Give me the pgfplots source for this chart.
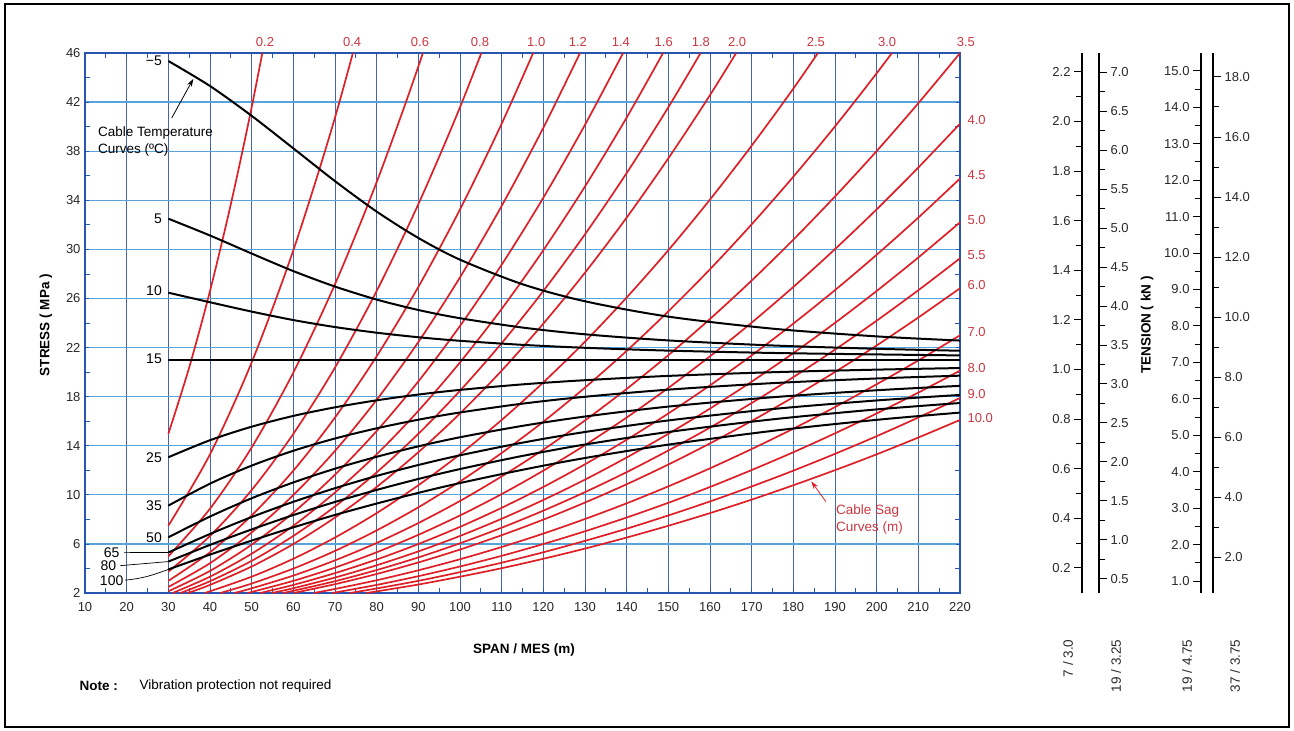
\documentclass[border=0pt]{standalone}
\usepackage{fontspec}
\setmainfont{Liberation Sans}
\usepackage{pgfplots}
\usepackage{pgfplotstable}
\pgfplotsset{compat=1.18}
\usetikzlibrary{arrows.meta}
\definecolor{vgrid}{RGB}{70,100,170}
\definecolor{hgrid}{RGB}{85,165,220}
\definecolor{axblue}{RGB}{40,85,175}
\definecolor{sagred}{RGB}{222,32,38}
\definecolor{labred}{RGB}{205,55,65}
\definecolor{txt}{RGB}{40,40,40}

% temperature curves: span L (m) vs stress (MPa) for each cable temperature
\pgfplotstableread{
L m5 t5 t10 t15 t25 t35 t50 t65 t80 t100
30 45.35 32.50 26.47 21.00 13.06 9.12 6.54 5.30 4.56 3.92
40 43.31 31.13 25.69 21.00 14.45 10.91 8.23 6.81 5.92 5.13
50 40.88 29.66 24.93 21.00 15.55 12.38 9.72 8.19 7.18 6.27
60 38.23 28.23 24.24 21.00 16.43 13.59 11.01 9.43 8.35 7.35
70 35.56 26.97 23.67 21.00 17.13 14.59 12.13 10.54 9.42 8.36
80 33.08 25.91 23.21 21.00 17.70 15.42 13.10 11.54 10.40 9.29
90 30.93 25.06 22.84 21.00 18.17 16.12 13.95 12.43 11.29 10.16
100 29.16 24.39 22.55 21.00 18.55 16.71 14.69 13.22 12.10 10.96
115 27.16 23.63 22.22 21.00 19.00 17.43 15.62 14.25 13.17 12.04
130 25.77 23.08 21.98 21.00 19.34 17.99 16.38 15.12 14.10 13.00
150 24.52 22.58 21.75 21.00 19.69 18.57 17.19 16.06 15.12 14.09
175 23.54 22.17 21.56 21.00 19.99 19.10 17.95 16.99 16.15 15.21
200 22.91 21.90 21.44 21.00 20.20 19.48 18.52 17.69 16.96 16.11
220 22.57 21.74 21.36 21.00 20.33 19.71 18.88 18.14 17.48 16.70
}\temps

\pgfplotsset{
  sag/.style={sagred, line width=1.7pt, smooth},
  temp/.style={black, line width=2pt, smooth},
  scaleaxis/.style={
    scale only axis, width=1pt, height=540pt, anchor=south west,
    xmin=0, xmax=1, axis x line=none,
    y axis line style={-, black, line width=1.6pt},
    tick align=outside, major tick length=8pt, minor tick length=6pt,
    minor y tick num=1,
    every tick/.style={black, line width=1pt},
    /pgf/number format/assume math mode=true,
    yticklabel style={font=\fontsize{13}{15}\selectfont, text=txt,
      /pgf/number format/.cd, fixed, fixed zerofill, precision=1},
  },
}

\begin{document}
\begin{tikzpicture}[x=1pt,y=1pt]
\useasboundingbox (0,0) rectangle (1294,-731);
\draw[line width=1.8pt] (5,-4) rectangle (1289,-727);

\begin{axis}[
  at={(85pt,-593pt)}, anchor=south west,
  scale only axis, width=875pt, height=540pt,
  xmin=10, xmax=220, ymin=2, ymax=46,
  xtick={10,20,...,220}, ytick={2,6,...,46},
  minor x tick num=1, minor y tick num=1,
  tick align=inside, major tick length=4pt, minor tick length=5pt,
  every tick/.style={axblue, line width=0.8pt},
  xmajorgrids, ymajorgrids,
  x grid style={vgrid, line width=1pt},
  y grid style={hgrid, line width=1.3pt},
  axis line style={axblue, line width=1.6pt},
  tick label style={font=\fontsize{13}{15}\selectfont, text=txt},
  /pgf/number format/assume math mode=true,
  xticklabel style={yshift=-6pt},
  yticklabel style={xshift=-1pt},
  clip mode=individual, no markers,
]
% ---- cable sag curves (m)
\addplot[sag] coordinates {(30,14.97)(35,20.37)(40,26.61)(45,33.68)(50,41.58)(55,50.31)};
\addplot[sag] coordinates {(30,7.48)(40,13.30)(50,20.79)(60,29.93)(70,40.74)(80,53.22)};
\addplot[sag] coordinates {(30,4.99)(40,8.87)(50,13.86)(60,19.96)(70,27.16)(80,35.48)(90,44.90)(100,55.43)};
\addplot[sag] coordinates {(30,3.74)(40,6.65)(50,10.39)(60,14.97)(70,20.37)(80,26.61)(90,33.68)(100,41.58)(110,50.31)};
\addplot[sag] coordinates {(30,2.99)(40,5.32)(50,8.32)(60,11.97)(70,16.30)(80,21.29)(90,26.94)(100,33.26)(110,40.24)(120,47.89)};
\addplot[sag] coordinates {(30,2.49)(40,4.43)(50,6.93)(60,9.98)(70,13.58)(80,17.74)(90,22.45)(100,27.72)(110,33.54)(120,39.91)(130,46.84)};
\addplot[sag] coordinates {(30,2.14)(40,3.80)(50,5.94)(60,8.55)(70,11.64)(80,15.20)(90,19.24)(100,23.76)(110,28.75)(120,34.21)(130,40.15)(140,46.56)};
\addplot[sag] coordinates {(31.02,2)(40,3.33)(50,5.20)(60,7.48)(70,10.19)(80,13.30)(90,16.84)(100,20.79)(110,25.15)(120,29.93)(130,35.13)(140,40.74)(150,46.77)};
\addplot[sag] coordinates {(32.90,2)(40,2.96)(50,4.62)(60,6.65)(70,9.05)(80,11.83)(90,14.97)(100,18.48)(110,22.36)(120,26.61)(130,31.23)(140,36.22)(150,41.58)(160,47.30)};
\addplot[sag] coordinates {(34.68,2)(40,2.66)(50,4.16)(60,5.99)(70,8.15)(80,10.64)(90,13.47)(100,16.63)(110,20.12)(120,23.95)(130,28.10)(140,32.59)(150,37.42)(160,42.57)(170,48.06)};
\addplot[sag] coordinates {(38.77,2)(50,3.33)(60,4.79)(70,6.52)(80,8.51)(90,10.78)(100,13.30)(110,16.10)(120,19.16)(130,22.48)(140,26.08)(150,29.93)(160,34.06)(170,38.45)(180,43.10)(190,48.03)};
\addplot[sag] coordinates {(42.47,2)(50,2.77)(60,3.99)(70,5.43)(80,7.10)(90,8.98)(100,11.09)(110,13.41)(120,15.96)(130,18.74)(140,21.73)(150,24.95)(160,28.38)(170,32.04)(180,35.92)(190,40.02)(200,44.35)(210,48.89)};
\addplot[sag] coordinates {(45.88,2)(50,2.38)(60,3.42)(70,4.66)(80,6.08)(90,7.70)(100,9.50)(110,11.50)(120,13.68)(130,16.06)(140,18.63)(150,21.38)(160,24.33)(170,27.46)(180,30.79)(190,34.31)(200,38.01)(210,41.91)(220,45.99)};
\addplot[sag] coordinates {(49.04,2)(60,2.99)(70,4.07)(80,5.32)(90,6.74)(100,8.32)(110,10.06)(120,11.97)(130,14.05)(140,16.30)(150,18.71)(160,21.29)(170,24.03)(180,26.94)(190,30.02)(200,33.26)(210,36.67)(220,40.24)};
\addplot[sag] coordinates {(52.02,2)(60,2.66)(70,3.62)(80,4.73)(90,5.99)(100,7.39)(110,8.94)(120,10.64)(130,12.49)(140,14.49)(150,16.63)(160,18.92)(170,21.36)(180,23.95)(190,26.68)(200,29.56)(210,32.59)(220,35.77)};
\addplot[sag] coordinates {(54.83,2)(60,2.39)(70,3.26)(80,4.26)(90,5.39)(100,6.65)(110,8.05)(120,9.58)(130,11.24)(140,13.04)(150,14.97)(160,17.03)(170,19.22)(180,21.55)(190,24.01)(200,26.61)(210,29.34)(220,32.20)};
\addplot[sag] coordinates {(57.51,2)(60,2.18)(70,2.96)(80,3.87)(90,4.90)(100,6.05)(110,7.32)(120,8.71)(130,10.22)(140,11.85)(150,13.61)(160,15.48)(170,17.48)(180,19.59)(190,21.83)(200,24.19)(210,26.67)(220,29.27)};
\addplot[sag] coordinates {(60.07,2)(70,2.72)(80,3.55)(90,4.49)(100,5.54)(110,6.71)(120,7.98)(130,9.37)(140,10.86)(150,12.47)(160,14.19)(170,16.02)(180,17.96)(190,20.01)(200,22.17)(210,24.45)(220,26.83)};
\addplot[sag] coordinates {(64.88,2)(70,2.33)(80,3.04)(90,3.85)(100,4.75)(110,5.75)(120,6.84)(130,8.03)(140,9.31)(150,10.69)(160,12.16)(170,13.73)(180,15.39)(190,17.15)(200,19.01)(210,20.95)(220,23.00)};
\addplot[sag] coordinates {(69.36,2)(80,2.66)(90,3.37)(100,4.16)(110,5.03)(120,5.99)(130,7.03)(140,8.15)(150,9.35)(160,10.64)(170,12.02)(180,13.47)(190,15.01)(200,16.63)(210,18.33)(220,20.12)};
\addplot[sag] coordinates {(73.57,2)(80,2.37)(90,2.99)(100,3.70)(110,4.47)(120,5.32)(130,6.25)(140,7.24)(150,8.32)(160,9.46)(170,10.68)(180,11.97)(190,13.34)(200,14.78)(210,16.30)(220,17.89)};
\addplot[sag] coordinates {(77.55,2)(80,2.13)(90,2.69)(100,3.33)(110,4.02)(120,4.79)(130,5.62)(140,6.52)(150,7.48)(160,8.51)(170,9.61)(180,10.78)(190,12.01)(200,13.30)(210,14.67)(220,16.10)};
% ---- cable temperature curves
\addplot[temp] table[x=L,y=m5]{\temps};
\addplot[temp] table[x=L,y=t5]{\temps};
\addplot[temp] table[x=L,y=t10]{\temps};
\addplot[temp] table[x=L,y=t15]{\temps};
\addplot[temp] table[x=L,y=t25]{\temps};
\addplot[temp] table[x=L,y=t35]{\temps};
\addplot[temp] table[x=L,y=t50]{\temps};
\addplot[temp] table[x=L,y=t65]{\temps};
\addplot[temp] table[x=L,y=t80]{\temps};
\addplot[temp] table[x=L,y=t100]{\temps};

% temperature labels
\begin{scope}[every node/.style={font=\fontsize{14}{16}\selectfont, text=black}]
\node[anchor=east, xshift=-3pt] at (30,45.35) {−5};
\node[anchor=east, xshift=-3pt] at (30,32.50) {5};
\node[anchor=east, xshift=-3pt] at (30,26.60) {10};
\node[anchor=east, xshift=-3pt] at (30,21.10) {15};
\node[anchor=east, xshift=-3pt] at (30,13.06) {25};
\node[anchor=east, xshift=-3pt] at (30,9.12) {35};
\node[anchor=east, xshift=-3pt] at (30,6.54) {50};
\node at (16.4,5.31) {65};
\node at (15.6,4.23) {80};
\node at (16.4,3.04) {100};
\end{scope}
\draw[line width=0.7pt] (19.4,5.31) -- (30,5.30);
\draw[line width=0.7pt] (18.5,4.23) -- (30,4.56);
\draw[line width=0.7pt] (19.6,3.05) to[out=5,in=200] (30,3.92);

% sag labels
\begin{scope}[every node/.style={font=\fontsize{13}{15}\selectfont, text=labred}]
\node[anchor=south, yshift=3pt] at (53.2,46) {0.2};
\node[anchor=south, yshift=3pt] at (74.1,46) {0.4};
\node[anchor=south, yshift=3pt] at (90.4,46) {0.6};
\node[anchor=south, yshift=3pt] at (104.8,46) {0.8};
\node[anchor=south, yshift=3pt] at (118.3,46) {1.0};
\node[anchor=south, yshift=3pt] at (128.3,46) {1.2};
\node[anchor=south, yshift=3pt] at (138.6,46) {1.4};
\node[anchor=south, yshift=3pt] at (148.9,46) {1.6};
\node[anchor=south, yshift=3pt] at (157.8,46) {1.8};
\node[anchor=south, yshift=3pt] at (166.5,46) {2.0};
\node[anchor=south, yshift=3pt] at (185.4,46) {2.5};
\node[anchor=south, yshift=3pt] at (202.5,46) {3.0};
\node[anchor=south, yshift=3pt] at (221.4,46) {3.5};
\node[anchor=west, xshift=4pt] at (220,40.56) {4.0};
\node[anchor=west, xshift=4pt] at (220,36.08) {4.5};
\node[anchor=west, xshift=4pt] at (220,32.42) {5.0};
\node[anchor=west, xshift=4pt] at (220,29.57) {5.5};
\node[anchor=west, xshift=4pt] at (220,27.12) {6.0};
\node[anchor=west, xshift=4pt] at (220,23.29) {7.0};
\node[anchor=west, xshift=4pt] at (220,20.36) {8.0};
\node[anchor=west, xshift=4pt] at (220,18.24) {9.0};
\node[anchor=west, xshift=4pt] at (220,16.28) {10.0};
\end{scope}

% annotations
\node[anchor=north west, align=left, inner sep=0pt, font=\fontsize{13.5}{17}\selectfont] at (13.1,40.0) {Cable Temperature\\Curves (ºC)};
\draw[line width=0.8pt, -{Stealth[length=8pt,width=5pt]}] (30.8,40.7) -- (36.0,43.9);
\node[anchor=north west, align=left, inner sep=0pt, text=labred, font=\fontsize{13.5}{17}\selectfont] at (190.2,9.2) {Cable Sag\\Curves (m)};
\draw[sagred, line width=0.8pt, -{Stealth[length=8pt,width=5pt]}] (187.8,9.45) -- (184.3,11.1);
\end{axis}

% ---- tension scales (kN)
\begin{axis}[axis y line=left, scaleaxis, at={(1082pt,-593pt)},
  ymin=0.0990, ymax=2.2761,
  ytick={0.2,0.4,0.6,0.8,1.0,1.2,1.4,1.6,1.8,2.0,2.2}]
\end{axis}
\begin{axis}[axis y line=right, scaleaxis, at={(1098pt,-593pt)},
  ymin=0.3152, ymax=7.2505,
  ytick={0.5,1.0,1.5,2.0,2.5,3.0,3.5,4.0,4.5,5.0,5.5,6.0,6.5,7.0}]
\end{axis}
\begin{axis}[axis y line=left, scaleaxis, at={(1201pt,-593pt)},
  ymin=0.6734, ymax=15.488,
  ytick={1,2,3,4,5,6,7,8,9,10,11,12,13,14,15}]
\end{axis}
\begin{axis}[axis y line=right, scaleaxis, at={(1212pt,-593pt)},
  ymin=0.8173, ymax=18.798,
  ytick={2,4,6,8,10,12,14,16,18}]
\end{axis}

% ---- texts
\node[rotate=90, font=\fontsize{13.5}{16}\selectfont\bfseries] at (46,-325) {STRESS ( MPa )};
\node[font=\fontsize{13.5}{16}\selectfont\bfseries] at (524,-650) {SPAN / MES (m)};
\node[anchor=west, font=\fontsize{13.5}{16}\selectfont\bfseries] at (76,-686) {Note :};
\node[anchor=west, font=\fontsize{13.5}{16}\selectfont] at (136,-686) {Vibration protection not required};
\node[rotate=90, font=\fontsize{13.5}{16}\selectfont\bfseries] at (1147,-325) {TENSION ( kN )};
\begin{scope}[every node/.style={rotate=90, anchor=east, font=\fontsize{13.5}{16}\selectfont, text=txt}]
\node at (1068,-636) {7 / 3.0};
\node at (1116,-636) {19 / 3.25};
\node at (1187,-636) {19 / 4.75};
\node at (1235,-636) {37 / 3.75};
\end{scope}
\end{tikzpicture}
\end{document}
